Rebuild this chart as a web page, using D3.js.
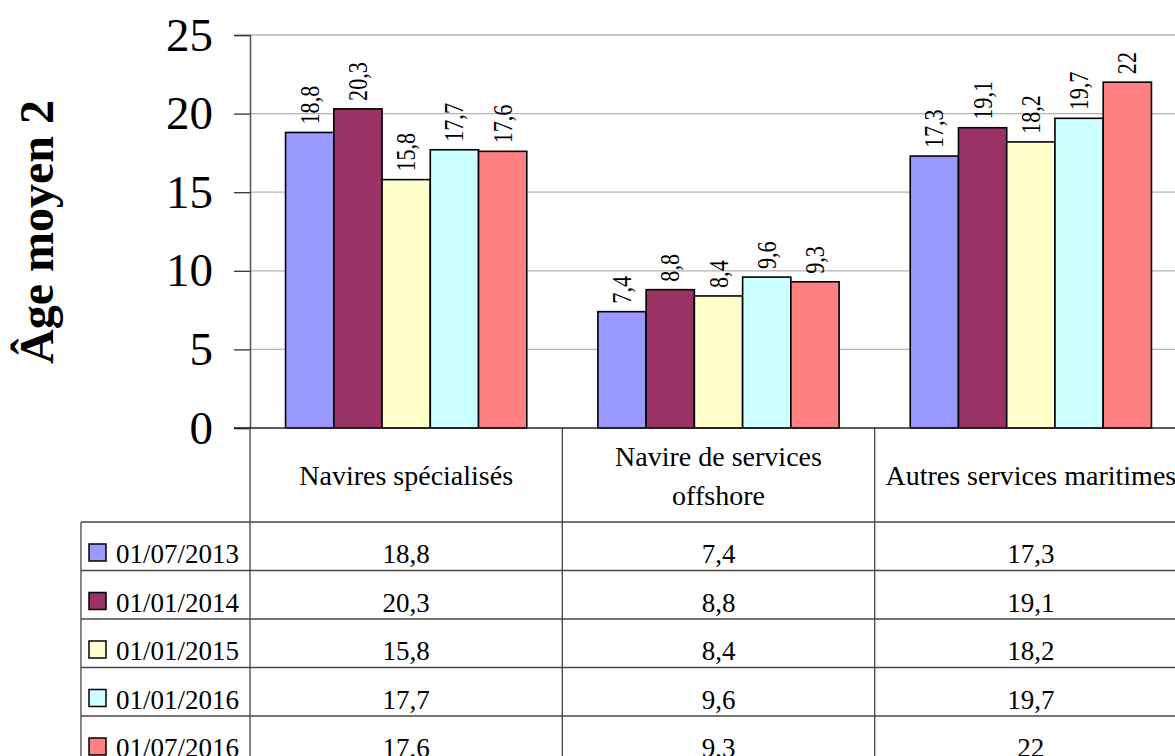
<!DOCTYPE html>
<html>
<head>
<meta charset="utf-8">
<script src="https://cdn.jsdelivr.net/npm/d3@7"></script>
<style>
	body { margin: 0; background: #fff; overflow: hidden; }
</style>
</head>
<body>
<div id="chart"></div>
<script>

const categories = ['Navires spécialisés', 'Navire de services offshore', 'Autres services maritimes'];
const headerLines = [['Navires spécialisés'], ['Navire de services', 'offshore'], ['Autres services maritimes']];

const seriesNames = ['01/07/2013', '01/01/2014', '01/01/2015', '01/01/2016', '01/07/2016'];
const seriesColors = ['#9999FF', '#993366', '#FFFFCC', '#CCFFFF', '#FF8080'];

const values_2013_07 = [18.8, 7.4, 17.3];
const values_2014_01 = [20.3, 8.8, 19.1];
const values_2015_01 = [15.8, 8.4, 18.2];
const values_2016_01 = [17.7, 9.6, 19.7];
const values_2016_07 = [17.6, 9.3, 22];

const yTicks = [0, 5, 10, 15, 20, 25];
const yTitle = 'Âge moyen 2';

const seriesValues = [values_2013_07, values_2014_01, values_2015_01, values_2016_01, values_2016_07];

const series = seriesNames.map((name, i) => ({
	name: name,
	color: seriesColors[i],
	values: seriesValues[i]
}));

const fmt = v => String(v).replace('.', ',');
const SERIF = '"Liberation Serif", "Times New Roman", serif';

////////////////////////////////////////////////////////////////////

const W = 1175, H = 756;
const plot = {l: 250, r: 1187, t: 35, b: 428};
const table = {legendX: 81, headerBottom: 522, rowH: 48.5};

const svg = d3.select('#chart')
	.append('svg')
	.attr('width', W)
	.attr('height', H);

const scaleX = d3.scaleBand()
	.domain(categories)
	.range([plot.l, plot.r])
	.paddingInner(0)
	.paddingOuter(0);

const scaleSeries = d3.scaleBand()
	.domain(seriesNames)
	.range([0, scaleX.bandwidth()])
	.paddingInner(0)
	.paddingOuter(0.737);

const scaleY = d3.scaleLinear().domain([0, 25]).range([plot.b, plot.t]);

const scaleRow = d3.scaleBand()
	.domain(seriesNames)
	.range([table.headerBottom, table.headerBottom + table.rowH * seriesNames.length]);

////////////////////////////////////////////////////////////////////

// grid
svg.append('g')
	.attr('class', 'grid')
	.selectAll('line')
	.data(yTicks.filter(d => d > 0))
	.enter()
	.append('line')
	.attr('x1', plot.l)
	.attr('x2', plot.r)
	.attr('y1', d => scaleY(d))
	.attr('y2', d => scaleY(d))
	.attr('stroke', '#b3b3b3')
	.attr('stroke-width', 1.3);

// y axis
const axisY = d3.axisLeft()
	.scale(scaleY)
	.tickValues(yTicks)
	.tickSize(16)
	.tickPadding(21)
	.tickFormat(d3.format('d'));

const axisYNode = svg.append('g')
	.attr('class', 'axis axis-y')
	.attr('transform', `translate(${plot.l},0)`)
	.call(axisY);

axisYNode.select('.domain').attr('stroke', '#555').attr('stroke-width', 1.5);
axisYNode.selectAll('.tick line').attr('stroke', '#333').attr('stroke-width', 1.3);
axisYNode.selectAll('.tick text')
	.style('font-family', SERIF)
	.style('font-size', '47px')
	.attr('fill', '#000');

svg.append('text')
	.attr('transform', 'translate(53,232) rotate(-90)')
	.attr('text-anchor', 'middle')
	.style('font-family', SERIF)
	.style('font-size', '48px')
	.style('font-weight', 'bold')
	.text(yTitle);

////////////////////////////////////////////////////////////////////

// bars
const groups = svg.append('g')
	.attr('class', 'bars')
	.selectAll('.series')
	.data(series)
	.enter()
	.append('g')
	.attr('class', 'series');

groups.selectAll('rect')
	.data(s => s.values.map((v, j) => ({v: v, cat: categories[j], s: s})))
	.enter()
	.append('rect')
	.attr('x', d => scaleX(d.cat) + scaleSeries(d.s.name))
	.attr('y', d => scaleY(d.v))
	.attr('width', scaleSeries.bandwidth())
	.attr('height', d => scaleY(0) - scaleY(d.v))
	.attr('fill', d => d.s.color)
	.attr('stroke', '#000')
	.attr('stroke-width', 1.6);

// value labels, rotated and a bit condensed like the original
groups.selectAll('.label')
	.data(s => s.values.map((v, j) => ({v: v, cat: categories[j], s: s})))
	.enter()
	.append('text')
	.attr('class', 'label')
	.attr('transform', d => {
		const cx = scaleX(d.cat) + scaleSeries(d.s.name) + scaleSeries.bandwidth() / 2 + 9;
		return `translate(${cx},${scaleY(d.v) - 8}) rotate(-90) scale(0.82,1)`;
	})
	.style('font-family', SERIF)
	.style('font-size', '27px')
	.text(d => fmt(d.v));

// x baseline
svg.append('line')
	.attr('x1', plot.l - 16)
	.attr('x2', plot.r)
	.attr('y1', scaleY(0))
	.attr('y2', scaleY(0))
	.attr('stroke', '#222')
	.attr('stroke-width', 1.5);

////////////////////////////////////////////////////////////////////

// data table
const tbl = svg.append('g').attr('class', 'table');
const lineColor = '#444';

tbl.selectAll('.vline')
	.data(categories.concat(['end']))
	.enter()
	.append('line')
	.attr('class', 'vline')
	.attr('x1', (d, i) => i < categories.length ? scaleX(d) : plot.r)
	.attr('x2', (d, i) => i < categories.length ? scaleX(d) : plot.r)
	.attr('y1', scaleY(0))
	.attr('y2', H + 20)
	.attr('stroke', lineColor)
	.attr('stroke-width', 1.3);

tbl.append('line')
	.attr('x1', table.legendX)
	.attr('x2', table.legendX)
	.attr('y1', table.headerBottom)
	.attr('y2', H + 20)
	.attr('stroke', lineColor)
	.attr('stroke-width', 1.3);

tbl.selectAll('.hline')
	.data(seriesNames.concat(['end']))
	.enter()
	.append('line')
	.attr('class', 'hline')
	.attr('x1', table.legendX)
	.attr('x2', plot.r)
	.attr('y1', (d, i) => table.headerBottom + i * table.rowH)
	.attr('y2', (d, i) => table.headerBottom + i * table.rowH)
	.attr('stroke', lineColor)
	.attr('stroke-width', 1.3);

// headers
const headers = tbl.selectAll('.header')
	.data(categories)
	.enter()
	.append('text')
	.attr('class', 'header')
	.attr('text-anchor', 'middle')
	.style('font-family', SERIF)
	.style('font-size', '28px');

headers.each(function(d, i) {
	const lines = headerLines[i];
	const cx = scaleX(d) + scaleX.bandwidth() / 2;
	const y0 = 485 - (lines.length - 1) * 39 / 2;
	d3.select(this).selectAll('tspan')
		.data(lines)
		.enter()
		.append('tspan')
		.attr('x', cx)
		.attr('y', (l, k) => y0 + k * 39)
		.text(l => l);
});

// legend keys + names + values
const rows = tbl.selectAll('.row')
	.data(series)
	.enter()
	.append('g')
	.attr('class', 'row')
	.attr('transform', d => `translate(0,${scaleRow(d.name)})`);

rows.append('rect')
	.attr('x', 89)
	.attr('y', 22)
	.attr('width', 17)
	.attr('height', 17)
	.attr('fill', d => d.color)
	.attr('stroke', '#000')
	.attr('stroke-width', 1.5);

rows.append('text')
	.attr('x', 116)
	.attr('y', 41)
	.style('font-family', SERIF)
	.style('font-size', '27px')
	.text(d => d.name);

rows.selectAll('.cell')
	.data(d => d.values.map((v, j) => ({v: v, cat: categories[j]})))
	.enter()
	.append('text')
	.attr('class', 'cell')
	.attr('x', d => scaleX(d.cat) + scaleX.bandwidth() / 2)
	.attr('y', 41)
	.attr('text-anchor', 'middle')
	.style('font-family', SERIF)
	.style('font-size', '27px')
	.text(d => fmt(d.v));

</script>
</body>
</html>
